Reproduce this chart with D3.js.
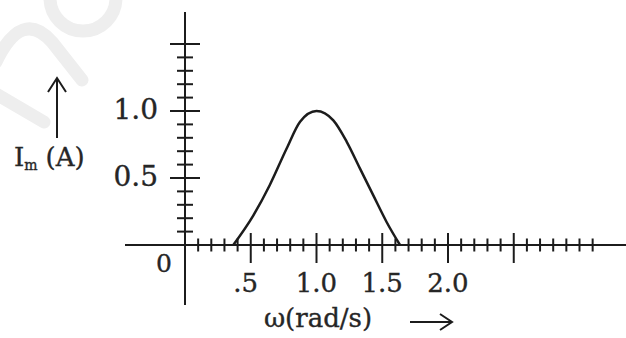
<!DOCTYPE html>
<html>
<head>
<title>Resonance curve</title>
<script src="https://cdnjs.cloudflare.com/ajax/libs/d3/7.8.5/d3.min.js"></script>
<style>
  body { margin: 0; background: #fff; }
  text { font-family: "DejaVu Serif", "Liberation Serif", serif; fill: #262626; stroke: #262626; stroke-width: 0.35px; }
</style>
</head>
<body>
<script>
// curve: angular frequency (rad/s) vs current amplitude (A)
var omega   = [0.367, 0.519, 0.646, 0.773, 0.875, 1.0, 1.128, 1.230, 1.331, 1.432, 1.534, 1.635];
var current = [0.0,   0.22,  0.45,  0.72,  0.92,  1.0, 0.93,  0.77,  0.57,  0.37,  0.17,  0.0];

var xMajor = [0.5, 1.0, 1.5, 2.0, 2.5];
var xLabels = [".5", "1.0", "1.5", "2.0"];
var yMajor = [0.5, 1.0, 1.5];
var yLabels = ["0.5", "1.0"];

var width = 626, height = 338;

var svg = d3.select("body").append("svg")
    .attr("width", width)
    .attr("height", height);

// faint watermark strokes in the corner
var wm = svg.append("g")
    .attr("fill", "none")
    .attr("stroke", "#eeeeee")
    .attr("stroke-width", 13)
    .attr("stroke-linecap", "round");
wm.append("path").attr("d", "M50,-2 A33,33 0 0,0 116,-2");
wm.append("path").attr("d", "M-4,62 Q22,8 52,42 L82,80");
wm.append("path").attr("d", "M-4,94 L44,122");

var x = d3.scaleLinear().domain([0, 1]).range([185, 316.5]);
var y = d3.scaleLinear().domain([0, 1]).range([245, 111]);

var ink = "#1c1c1c";

// axes
svg.append("line")
    .attr("x1", 125).attr("x2", width)
    .attr("y1", y(0)).attr("y2", y(0))
    .attr("stroke", ink).attr("stroke-width", 2);
svg.append("line")
    .attr("x1", x(0)).attr("x2", x(0))
    .attr("y1", 12).attr("y2", 305)
    .attr("stroke", ink).attr("stroke-width", 2);

// x ticks every 0.1 up to 3.1
var xTicks = d3.range(1, 32).map(function(i) { return i / 10; });
svg.selectAll(".xtick")
    .data(xTicks)
    .enter().append("line")
    .attr("class", "xtick")
    .attr("x1", function(d) { return x(d); })
    .attr("x2", function(d) { return x(d); })
    .attr("y1", function(d) { return y(0) - (isMajor(d, xMajor) ? 12 : 6.5); })
    .attr("y2", function(d) { return y(0) + (isMajor(d, xMajor) ? 18 : 6.5); })
    .attr("stroke", ink).attr("stroke-width", 2);

// y ticks every 0.1 up to 1.5
var yTicks = d3.range(1, 16).map(function(i) { return i / 10; });
svg.selectAll(".ytick")
    .data(yTicks)
    .enter().append("line")
    .attr("class", "ytick")
    .attr("x1", function(d) { return x(0) - (isMajor(d, yMajor) ? 15 : 8); })
    .attr("x2", function(d) { return x(0) + (isMajor(d, yMajor) ? 15 : 8); })
    .attr("y1", function(d) { return y(d); })
    .attr("y2", function(d) { return y(d); })
    .attr("stroke", ink).attr("stroke-width", 2);

function isMajor(v, list) {
    return list.some(function(m) { return Math.abs(m - v) < 1e-6; });
}

// tick labels
svg.selectAll(".xlab")
    .data(xLabels)
    .enter().append("text")
    .attr("class", "xlab")
    .attr("x", function(d, i) { return x(xMajor[i]) - (i == 0 ? 5 : 0); })
    .attr("y", 292)
    .attr("text-anchor", "middle")
    .attr("font-size", "26px")
    .text(function(d) { return d; });

svg.selectAll(".ylab")
    .data(yLabels)
    .enter().append("text")
    .attr("class", "ylab")
    .attr("x", 158)
    .attr("y", function(d, i) { return y(yMajor[i]) + 8; })
    .attr("text-anchor", "end")
    .attr("font-size", "28px")
    .text(function(d) { return d; });

svg.append("text")
    .attr("x", 164).attr("y", 272)
    .attr("text-anchor", "middle")
    .attr("font-size", "25px")
    .text("0");

// y axis title with arrow
var yt = svg.append("text")
    .attr("x", 14).attr("y", 166)
    .attr("font-size", "26px");
yt.append("tspan").text("I");
yt.append("tspan").attr("font-size", "14px").attr("dy", 4).text("m");
yt.append("tspan").attr("dy", -4).attr("dx", 8).text("(A)");

svg.append("line")
    .attr("x1", 57).attr("x2", 57).attr("y1", 138).attr("y2", 78)
    .attr("stroke", ink).attr("stroke-width", 2);
svg.append("path")
    .attr("d", "M48,92 L57,78 L66,92")
    .attr("fill", "none").attr("stroke", ink).attr("stroke-width", 2);

// x axis title with arrow
svg.append("text")
    .attr("x", 318).attr("y", 327)
    .attr("text-anchor", "middle")
    .attr("font-size", "26px")
    .text("ω(rad/s)");

svg.append("line")
    .attr("x1", 410).attr("x2", 451).attr("y1", 322).attr("y2", 322)
    .attr("stroke", ink).attr("stroke-width", 2);
svg.append("path")
    .attr("d", "M440,314 L452,322 L440,330")
    .attr("fill", "none").attr("stroke", ink).attr("stroke-width", 2);

// the resonance curve
var points = omega.map(function(w, i) { return [w, current[i]]; });
var line = d3.line()
    .x(function(d) { return x(d[0]); })
    .y(function(d) { return y(d[1]); })
    .curve(d3.curveMonotoneX);

svg.append("path")
    .datum(points)
    .attr("d", line)
    .attr("fill", "none")
    .attr("stroke", ink)
    .attr("stroke-width", 2.5);
</script>
</body>
</html>
